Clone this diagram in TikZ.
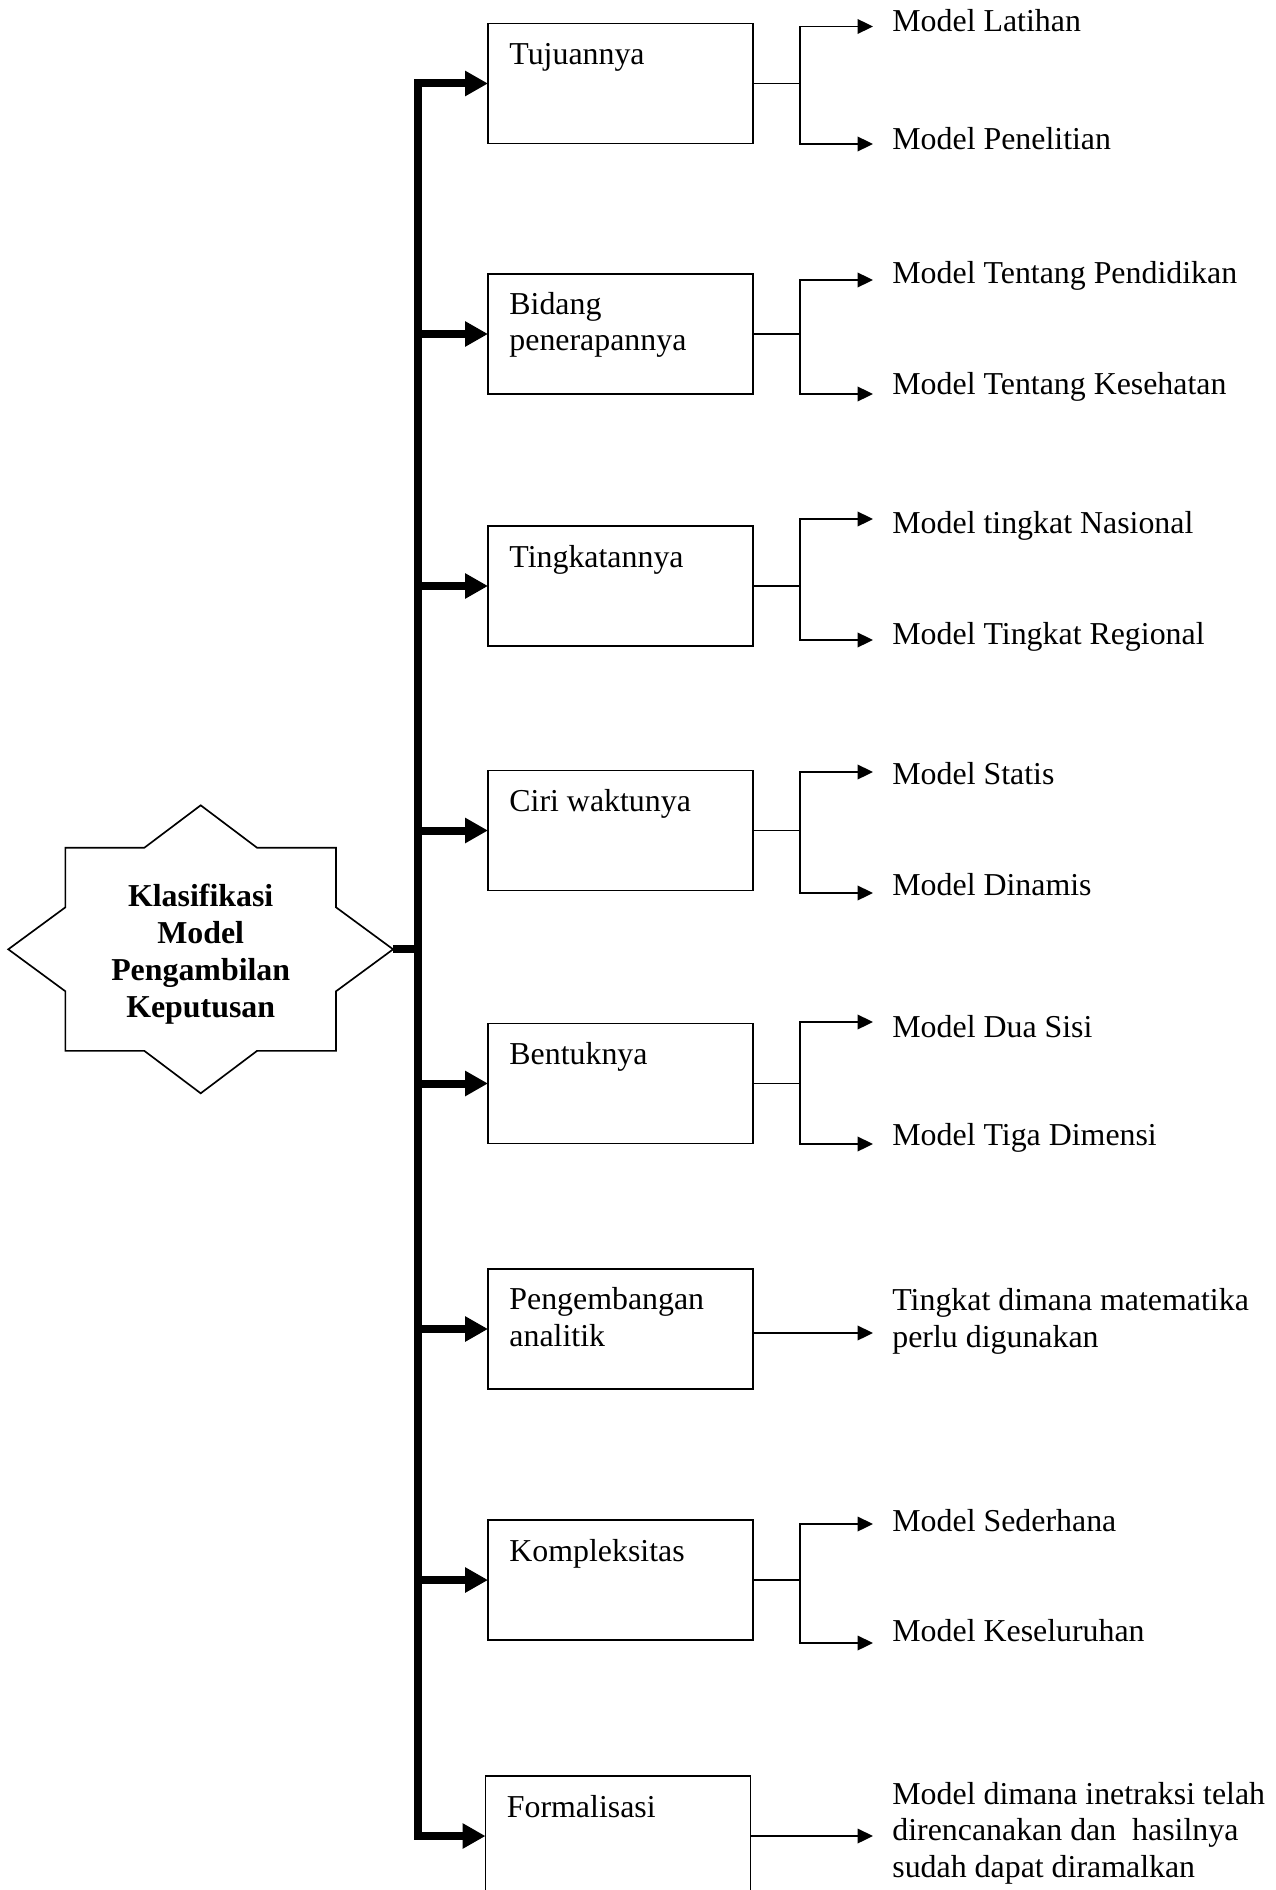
\documentclass[tikz,border=0pt]{standalone}
\usepackage{fontspec}
\setmainfont{Liberation Serif}
\usetikzlibrary{arrows.meta,calc}

\begin{document}
\begin{tikzpicture}[
    x=0.48pt, y=-0.48pt,
    box/.style={draw, line width=0.8pt, minimum width=127.2pt,
      minimum height=57.6pt, inner sep=0pt, outer sep=0pt},
    boxtitle/.style={anchor=base west, inner sep=0pt, align=left,
      font=\fontsize{15.3}{17.3}\selectfont},
    leaf/.style={anchor=base west, inner ysep=0pt, inner xsep=9.1pt,
      align=left, font=\fontsize{15.3}{17.3}\selectfont},
    hubtext/.style={anchor=base, inner sep=0pt, align=center,
      font=\bfseries\fontsize{15.3}{17.7}\selectfont},
    wire/.style={line width=0.75pt, line cap=rect},
    pointer/.style={line width=0.8pt, -{Triangle[length=7.4pt,width=7pt]}},
    stem/.style={line width=3.84pt},
    trunkarrow/.style={line width=3.84pt, line join=miter,
      -{Triangle[length=11pt,width=11.5pt]}}
  ]
  \useasboundingbox (0,0) rectangle (1275,1890);

  % ---- central eight-pointed star ----
  \coordinate (hubc) at (200.7,949.3);
  \draw[line width=0.8pt, line join=miter, shift={(hubc)}]
    (0,-144) -- (56.3,-101.6) -- (135.3,-101.6) -- (135.3,-42)
    -- (192.4,0) -- (135.3,42) -- (135.3,101.6) -- (56.3,101.6)
    -- (0,144) -- (-56.3,101.6) -- (-135.3,101.6) -- (-135.3,42)
    -- (-192.4,0) -- (-135.3,-42) -- (-135.3,-101.6) -- (-56.3,-101.6)
    -- cycle;
  % multi-line nodes sit on the baseline of their last line
  \node[hubtext] (hub) at (200.7,1017)
    {Klasifikasi\\Model\\Pengambilan\\Keputusan};
  \coordinate (hubR) at ($(hubc)+(192.4,0)$);

  % ---- category boxes ----
  \node[box] (b1) at (620.5,83.5) {};
  \node[box] (b2) at (620.5,334) {};
  \node[box] (b3) at (620.5,586) {};
  \node[box] (b4) at (620.5,830.5) {};
  \node[box] (b5) at (620.5,1083.5) {};
  \node[box] (b6) at (620.5,1329) {};
  \node[box] (b7) at (620.5,1580) {};
  \node[box] (b8) at (618,1836) {};

  \node[boxtitle] (h1) at ($(b1.north west)+(21,41)$) {Tujuannya};
  \node[boxtitle] (h2) at ($(b2.north west)+(21,77)$) {Bidang\\penerapannya};
  \node[boxtitle] (h3) at ($(b3.north west)+(21,41)$) {Tingkatannya};
  \node[boxtitle] (h4) at ($(b4.north west)+(21,41)$) {Ciri waktunya};
  \node[boxtitle] (h5) at ($(b5.north west)+(21,41)$) {Bentuknya};
  \node[boxtitle] (h6) at ($(b6.north west)+(21,77)$) {Pengembangan\\analitik};
  \node[boxtitle] (h7) at ($(b7.north west)+(21,41)$) {Kompleksitas};
  \node[boxtitle] (h8) at ($(b8.north west)+(21,41)$) {Formalisasi};

  % ---- thick trunk from the star to every box ----
  \coordinate (tj) at (417.5,949.3);
  \draw[stem] (hubR) -- (tj);
  \draw[trunkarrow] (tj) |- (b1.west);
  \draw[trunkarrow] (tj) |- (b8.west);
  \foreach \k in {2,...,7}
    \draw[trunkarrow] (tj |- b\k.west) -- (b\k.west);

  % ---- leaf labels ----
  \node[leaf] (m1a) at (873,32)   {Model Latihan};
  \node[leaf] (m1b) at (873,150)  {Model Penelitian};
  \node[leaf] (m2a) at (873,283.5){Model Tentang Pendidikan};
  \node[leaf] (m2b) at (873,395)  {Model Tentang Kesehatan};
  \node[leaf] (m3a) at (873,533)  {Model tingkat Nasional};
  \node[leaf] (m3b) at (873,644)  {Model Tingkat Regional};
  \node[leaf] (m4a) at (873,784)  {Model Statis};
  \node[leaf] (m4b) at (873,895)  {Model Dinamis};
  \node[leaf] (m5a) at (873,1037) {Model Dua Sisi};
  \node[leaf] (m5b) at (873,1145) {Model Tiga Dimensi};
  \node[leaf] (m6)  at (873,1347) {Tingkat dimana matematika\\perlu digunakan};
  \node[leaf] (m7a) at (873,1531) {Model Sederhana};
  \node[leaf] (m7b) at (873,1641) {Model Keseluruhan};
  \node[leaf] (m8)  at (873,1877)
    {Model dimana inetraksi telah\\direncanakan dan\ \ hasilnya\\sudah dapat diramalkan};

  % ---- forks on the right ----
  \coordinate (t1) at (800,26.5);   \coordinate (u1) at (800,144);
  \coordinate (t2) at (800,280);    \coordinate (u2) at (800,394);
  \coordinate (t3) at (800,519);    \coordinate (u3) at (800,640);
  \coordinate (t4) at (800,772);    \coordinate (u4) at (800,893);
  \coordinate (t5) at (800,1022);   \coordinate (u5) at (800,1144);
  \coordinate (t7) at (800,1524);   \coordinate (u7) at (800,1643);

  \foreach \k in {1,2,3,4,5,7} {
    \draw[wire] (b\k.east) -- (b\k.east -| t\k);
    \draw[wire] (t\k) -- (u\k);
    \draw[pointer] (t\k) -- (m\k a.west |- t\k);
    \draw[pointer] (u\k) -- (m\k b.west |- u\k);
  }

  % ---- single arrows ----
  \coordinate (e6) at ($(b6.east)+(0,4)$);
  \draw[pointer] (e6) -- (m6.west |- e6);
  \draw[pointer] (b8.east) -- (m8.west |- b8.east);
\end{tikzpicture}
\end{document}
